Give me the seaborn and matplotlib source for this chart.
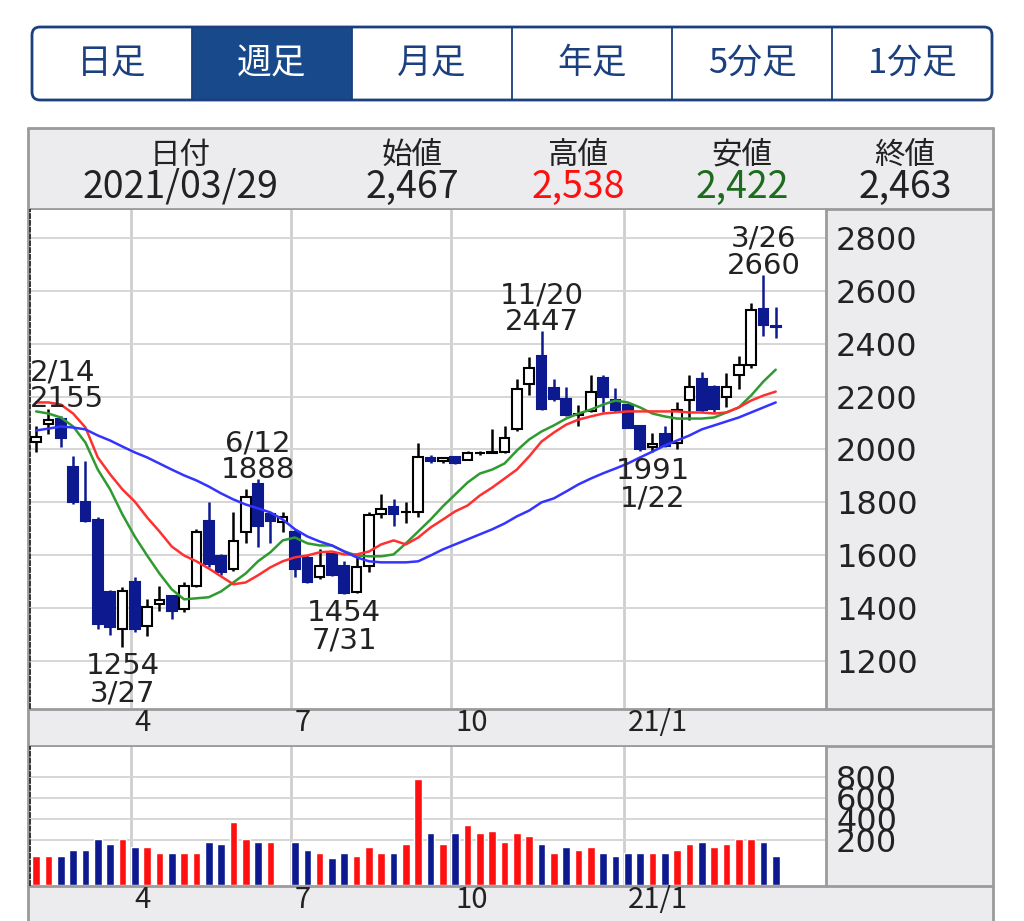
import numpy as np
import pandas as pd
import matplotlib
matplotlib.use('Agg')
import matplotlib.pyplot as plt
from matplotlib.patches import FancyBboxPatch, Rectangle
import seaborn as sns

# weekly candles, week of 2020/02/03 .. week of 2021/03/29
opens = [2030, 2095, 2117, 1932, 1803, 1735, 1459, 1320, 1497, 1331,
         1415, 1445, 1395, 1482, 1728, 1596, 1546, 1686, 1868, 1755,
         1725, 1686, 1590, 1516, 1603, 1560, 1460, 1558, 1755, 1781,
         1762, 1762, 1968, 1955, 1970, 1962, 1985, 1988, 1989, 2076,
         2246, 2355, 2234, 2190, 2130, 2147, 2272, 2189, 2170, 2087,
         2008, 2057, 2023, 2189, 2265, 2238, 2197, 2283, 2321, 2533, 2467]
highs = [2087, 2155, 2125, 1974, 1955, 1745, 1470, 1480, 1516, 1433,
         1482, 1450, 1497, 1698, 1800, 1605, 1762, 1849, 1888, 1762,
         1762, 1698, 1600, 1622, 1610, 1580, 1592, 1762, 1830, 1811,
         1803, 2026, 1980, 1970, 1975, 1995, 1995, 2076, 2087, 2265,
         2348, 2447, 2265, 2238, 2170, 2283, 2280, 2234, 2175, 2090,
         2064, 2087, 2181, 2283, 2295, 2245, 2291, 2352, 2556, 2660, 2538]
lows = [1992, 2057, 2008, 1792, 1725, 1320, 1300, 1254, 1310, 1293,
        1390, 1357, 1384, 1480, 1554, 1527, 1539, 1648, 1630, 1648,
        1686, 1516, 1495, 1510, 1520, 1454, 1458, 1535, 1740, 1710,
        1720, 1743, 1950, 1950, 1945, 1960, 1980, 1985, 1985, 2070,
        2208, 2150, 2185, 2128, 2087, 2140, 2140, 2140, 2080, 1995,
        1991, 2010, 2000, 2113, 2140, 2140, 2162, 2227, 2310, 2430, 2422]
closes = [2049, 2113, 2045, 1800, 1728, 1340, 1330, 1463, 1320, 1403,
          1430, 1390, 1482, 1686, 1565, 1535, 1652, 1822, 1709, 1730,
          1743, 1546, 1497, 1558, 1527, 1458, 1554, 1754, 1773, 1755,
          1765, 1970, 1958, 1966, 1950, 1985, 1988, 1992, 2045, 2227,
          2310, 2152, 2190, 2132, 2136, 2219, 2197, 2151, 2083, 2000,
          2022, 2015, 2151, 2238, 2148, 2155, 2238, 2318, 2529, 2472, 2463]
volumes = [50, 50, 50, 105, 105, 210, 159, 210, 130, 130,
           79, 79, 79, 79, 184, 159, 368, 210, 184, 184,
           np.nan, 184, 105, 79, 26, 79, 50, 130, 79, 79,
           159, 781, 263, 159, 263, 343, 263, 289, 184, 263,
           238, 159, 79, 130, 105, 130, 79, 50, 79, 79,
           79, 79, 105, 159, 184, 130, 159, 210, 210, 184, 50]

# moving averages as drawn on the chart
ma_short = [2144, 2136, 2121, 2087, 2026, 1924, 1849, 1754, 1671, 1599,
            1531, 1471, 1433, 1437, 1441, 1463, 1497, 1531, 1577, 1611,
            1656, 1667, 1645, 1637, 1637, 1614, 1599, 1596, 1596, 1603,
            1645, 1690, 1735, 1785, 1830, 1875, 1909, 1924, 1947, 1996,
            2038, 2068, 2091, 2117, 2136, 2151, 2170, 2185, 2178, 2159,
            2136, 2125, 2117, 2117, 2117, 2121, 2140, 2159, 2204, 2257, 2302]
ma_mid = [2178, 2178, 2170, 2136, 2083, 1970, 1906, 1849, 1803, 1743,
          1690, 1633, 1599, 1577, 1550, 1520, 1490, 1497, 1524, 1554,
          1577, 1592, 1599, 1611, 1614, 1603, 1603, 1614, 1641, 1656,
          1641, 1667, 1705, 1735, 1766, 1788, 1826, 1856, 1890, 1924,
          1974, 2030, 2064, 2094, 2113, 2125, 2136, 2140, 2144, 2144,
          2144, 2144, 2144, 2140, 2140, 2136, 2140, 2159, 2185, 2204, 2219]
ma_long = [2072, 2079, 2087, 2083, 2076, 2053, 2034, 2011, 1989, 1970,
           1947, 1924, 1902, 1883, 1860, 1834, 1811, 1792, 1777, 1762,
           1735, 1698, 1671, 1652, 1637, 1614, 1592, 1577, 1573, 1573,
           1573, 1577, 1599, 1622, 1641, 1660, 1679, 1698, 1720, 1747,
           1769, 1800, 1815, 1841, 1868, 1890, 1910, 1928, 1947, 1970,
           1992, 2015, 2034, 2053, 2076, 2091, 2106, 2121, 2140, 2159, 2178]

month_idx = [8, 21, 34, 48]
month_labels = ['4', '7', '10', '21/1']

# (bar, high/low, date shown with the price)
marks = [(1, 'high', '2/14'), (7, 'low', '3/27'), (18, 'high', '6/12'),
         (25, 'low', '7/31'), (41, 'high', '11/20'), (50, 'low', '1/22'),
         (59, 'high', '3/26')]

tabs = ['日足', '週足', '月足', '年足', '5分足', '1分足']
selected_tab = '週足'
head_labels = ['日付', '始値', '高値', '安値', '終値']
last_date = '2021/03/29'

price_ticks = list(range(1200, 2801, 200))
vol_ticks = [200, 400, 600, 800]

sns.set_style('white')
plt.rcParams['font.family'] = ['DejaVu Sans', 'Noto Sans CJK JP']

NAVY = '#1c3f7e'
BLUE = '#0d1a8f'
RED = '#ff1010'
GRAY = '#ececef'
EDGE = '#9b9b9b'
TXT = '#222222'
JP = ['Noto Sans CJK JP', 'DejaVu Sans']

W, H = 1024, 921
fig = plt.figure(figsize=(W / 100, H / 100), dpi=100)


def px_axes(x0, y0, x1, y1):
    return fig.add_axes([x0 / W, 1 - y1 / H, (x1 - x0) / W, (y1 - y0) / H])


# page background: tabs, header table and gray panels
bg = px_axes(0, 0, W, H)
bg.set_xlim(0, W)
bg.set_ylim(H, 0)
bg.axis('off')

tx0, tx1, ty0, ty1 = 32, 992, 27, 100
tw = (tx1 - tx0) / len(tabs)
for k, t in enumerate(tabs):
    x = tx0 + k * tw
    sel = t == selected_tab
    if sel:
        bg.add_patch(Rectangle((x, ty0), tw, ty1 - ty0, fc='#184a8b', ec='none'))
    if k:
        bg.plot([x, x], [ty0, ty1], color=NAVY, lw=1.3)
    bg.text(x + tw / 2, (ty0 + ty1) / 2, t, ha='center', va='center', fontsize=25,
            color='white' if sel else NAVY, family=JP)
bg.add_patch(FancyBboxPatch((tx0, ty0), tx1 - tx0, ty1 - ty0,
                            boxstyle='round,pad=0,rounding_size=8',
                            fc='none', ec=NAVY, lw=2))

for rect in [(28, 128, 965, 81), (826, 209, 167, 500), (28, 709, 965, 37),
             (826, 746, 167, 140), (28, 886, 965, 40)]:
    bg.add_patch(Rectangle(rect[:2], rect[2], rect[3], fc=GRAY, ec='none'))
for xs, ys in [([28, 993], [128, 128]), ([28, 993], [209, 209]), ([28, 993], [709, 709]),
               ([28, 993], [746, 746]), ([28, 993], [886, 886]), ([28, 28], [128, 921]),
               ([993, 993], [128, 921]), ([826, 826], [209, 709]), ([826, 826], [746, 886])]:
    bg.plot(xs, ys, color=EDGE, lw=2)

o, h, l, c = (np.array(a, float) for a in (opens, highs, lows, closes))
head_values = [last_date] + [f'{int(v):,}' for v in (o[-1], h[-1], l[-1], c[-1])]
head_colors = [TXT, TXT, RED, '#1d6b1d', TXT]
for xc, lab, val, col in zip([180, 412, 578, 742, 905], head_labels, head_values, head_colors):
    bg.text(xc, 155, lab, ha='center', va='center', fontsize=22, color=TXT, family=JP)
    bg.text(xc, 187, val, ha='center', va='center', fontsize=27, color=col, family=JP)

# price chart
ax = px_axes(30, 210, 825, 708)
axv = px_axes(30, 747, 825, 885)

idx = np.arange(len(o))
up = c >= o
body_col = np.where(up, 'white', BLUE)
edge_col = np.where(up, 'black', BLUE)
ax.vlines(idx, l, h, colors=edge_col, lw=1.8, zorder=3)
ax.bar(idx, c - o, bottom=o, width=0.78, color=body_col, edgecolor=edge_col, lw=1.5, zorder=4)

ma = pd.DataFrame({'bar': idx, 'short': ma_short, 'mid': ma_mid, 'long': ma_long})
ma = ma.melt('bar', var_name='line', value_name='price')
sns.lineplot(data=ma, x='bar', y='price', hue='line',
             palette={'short': '#2f9a2f', 'mid': '#ff3030', 'long': '#3434ff'},
             lw=1.8, legend=False, ax=ax, zorder=5)

for i, kind, day in marks:
    if kind == 'high':
        txt, y, va, dy = f'{day}\n{int(h[i])}', h[i], 'bottom', -3.5
    else:
        txt, y, va, dy = f'{int(l[i])}\n{day}', l[i], 'top', -4
    if i < 3:  # keep label inside the left edge
        kw = dict(xy=(0, y), xycoords=ax.get_yaxis_transform(), ha='left')
    else:
        kw = dict(xy=(i, y), ha='center')
    ax.annotate(txt, xytext=(0, dy), textcoords='offset points', va=va, fontsize=21,
                linespacing=0.95, color=TXT, zorder=6, annotation_clip=False, **kw)

# volume, coloured by close versus previous close
vol = np.array(volumes, float)
prev = np.r_[o[0], c[:-1]]
vol_col = np.where(c > prev, RED, BLUE)
VOL_MIN, VOL_MAX = -230, 1086
ok = ~np.isnan(vol)
axv.bar(idx[ok], vol[ok] - VOL_MIN, bottom=VOL_MIN, width=0.62, color=vol_col[ok], zorder=3)

for a, lims, ticks in ((ax, (1022, 2906), price_ticks), (axv, (VOL_MIN, VOL_MAX), vol_ticks)):
    a.set_xlim(-0.5, 64)
    a.set_ylim(*lims)
    a.set_yticks(ticks)
    a.yaxis.tick_right()
    a.tick_params(axis='y', length=0, pad=8, labelsize=23, labelcolor=TXT)
    a.set_xticks([])
    a.set_xlabel('')
    a.set_ylabel('')
    a.set_axisbelow(True)
    a.grid(axis='y', color='#d6d6d6', lw=1.4)
    for m, lab in zip(month_idx, month_labels):
        a.axvline(m - 0.33, color='#cecece', lw=2, zorder=0)
        a.annotate(lab, xy=(m, 0), xycoords=('data', 'axes fraction'), xytext=(0, -11),
                   textcoords='offset points', ha='left', va='center', fontsize=21,
                   color=TXT, family=JP, annotation_clip=False)
    for s in ('top', 'right', 'bottom'):
        a.spines[s].set_visible(False)
    a.spines['left'].set_color('#333333')
    a.spines['left'].set_linestyle((0, (2, 1.5)))
    a.spines['left'].set_linewidth(1.4)

fig.savefig('out.png', dpi=100)
